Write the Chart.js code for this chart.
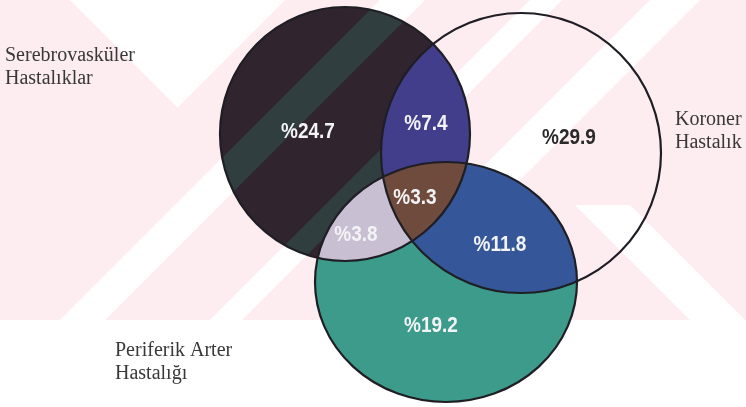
<!DOCTYPE html>
<html>
<head>
<meta charset="utf-8">
<script src="https://cdn.jsdelivr.net/npm/chart.js@4.4.0/dist/chart.umd.min.js"></script>
<style>
  html, body { margin: 0; padding: 0; background: #ffffff; }
  canvas { display: block; }
</style>
</head>
<body>
<canvas id="venn" width="746" height="407"></canvas>
<script>
// Share of patients (%) in each region of the three-set diagram
// A = Serebrovasküler, B = Koroner, C = Periferik Arter
const regionKeys   = ['A', 'AB', 'B', 'AC', 'ABC', 'BC', 'C'];
const regionValues = [24.7, 7.4, 29.9, 3.8, 3.3, 11.8, 19.2];

// Set names, one entry per set, two lines each
const setKeys  = ['A', 'B', 'C'];
const setNames = [['Serebrovasküler', 'Hastalıklar'], ['Koroner', 'Hastalık'], ['Periferik Arter', 'Hastalığı']];

// ---- layout (axis units: x 0..746, y 0..407 downward) ----
const setShapes = {
  A: { cx: 345, cy: 134, rx: 125, ry: 127 },
  B: { cx: 521, cy: 153, rx: 140, ry: 140 },
  C: { cx: 446, cy: 282, rx: 131, ry: 120 }
};
const regionLabelPos = [[308, 132], [426, 124], [569, 138], [356, 235], [415, 198], [500, 245], [431, 326]];
const setNamePos = [[5, 61], [675, 125], [115, 356]];

// ---- styles ----
const regionColors = {
  A: '#30242f', AB: '#423e8c', AC: '#c8bfd3', ABC: '#6f4b3d', BC: '#35579a', C: '#3d9b8b'
};
const labelColors = { B: '#2a2a2a' };
const outlineColor = '#1e1e24';
const watermarkPink = '#fdedf1';
const bandTint = 'rgb(44,62,64)';
// rising light bands of the watermark, as x + y ranges
const risingBands = [[380, 425], [530, 562], [650, 700]];

function ellipsePath(ctx, chart, key) {
  const s = setShapes[key];
  const xs = chart.scales.x, ys = chart.scales.y;
  const px = xs.getPixelForValue(s.cx), py = ys.getPixelForValue(s.cy);
  const prx = Math.abs(xs.getPixelForValue(s.cx + s.rx) - px);
  const pry = Math.abs(ys.getPixelForValue(s.cy + s.ry) - py);
  ctx.beginPath();
  ctx.ellipse(px, py, prx, pry, 0, 0, Math.PI * 2);
  ctx.closePath();
}

function clipTo(ctx, chart, key) { ellipsePath(ctx, chart, key); ctx.clip(); }

function fillSet(ctx, chart, key, color) { ellipsePath(ctx, chart, key); ctx.fillStyle = color; ctx.fill(); }

function poly(ctx, pts) {
  ctx.beginPath();
  ctx.moveTo(pts[0][0], pts[0][1]);
  pts.slice(1).forEach(p => ctx.lineTo(p[0], p[1]));
  ctx.closePath();
  ctx.fill();
}

function risingBand(ctx, a, b, h) { poly(ctx, [[a, 0], [b, 0], [b - h, h], [a - h, h]]); }

// faint diagonal watermark bands behind the diagram
function drawWatermark(ctx, w) {
  const h = 320;
  ctx.fillStyle = watermarkPink;
  ctx.fillRect(0, 0, w, h);
  ctx.fillStyle = '#ffffff';
  risingBands.forEach(([a, b]) => risingBand(ctx, a, b, h));
  // top-left notch
  poly(ctx, [[70, 0], [285, 0], [177.5, 107.5]]);
  // falling band at the right
  poly(ctx, [[575, 205], [630, 205], [745, 320], [690, 320]]);
}

const vennPlugin = {
  id: 'venn',
  beforeDatasetsDraw(chart) {
    const ctx = chart.ctx;
    ctx.save();
    ctx.fillStyle = '#ffffff';
    ctx.fillRect(0, 0, chart.width, chart.height);
    drawWatermark(ctx, chart.width);

    // single-set fills (B alone stays transparent)
    fillSet(ctx, chart, 'A', regionColors.A);
    fillSet(ctx, chart, 'C', regionColors.C);
    // pairwise overlaps
    ctx.save(); clipTo(ctx, chart, 'A'); fillSet(ctx, chart, 'B', regionColors.AB); ctx.restore();
    ctx.save(); clipTo(ctx, chart, 'A'); fillSet(ctx, chart, 'C', regionColors.AC); ctx.restore();
    ctx.save(); clipTo(ctx, chart, 'B'); fillSet(ctx, chart, 'C', regionColors.BC); ctx.restore();
    // triple overlap
    ctx.save(); clipTo(ctx, chart, 'A'); clipTo(ctx, chart, 'B'); fillSet(ctx, chart, 'C', regionColors.ABC); ctx.restore();

    // watermark bands showing through the dark set
    ctx.save();
    clipTo(ctx, chart, 'A');
    ctx.globalCompositeOperation = 'lighten';
    ctx.fillStyle = bandTint;
    risingBands.forEach(([a, b]) => risingBand(ctx, a, b, 320));
    ctx.restore();

    // outlines
    ctx.lineWidth = 2.2;
    ctx.strokeStyle = outlineColor;
    setKeys.forEach(k => { ellipsePath(ctx, chart, k); ctx.stroke(); });
    ctx.restore();
  },
  afterDatasetsDraw(chart) {
    const ctx = chart.ctx;
    ctx.save();
    // region percentages at the dataset points
    const pts = chart.getDatasetMeta(0).data;
    ctx.font = 'bold 19px "Liberation Sans", Arial, sans-serif';
    ctx.textAlign = 'center';
    ctx.textBaseline = 'middle';
    pts.forEach((p, i) => {
      ctx.save();
      ctx.translate(p.x, p.y);
      ctx.scale(1, 1.12);
      ctx.fillStyle = labelColors[regionKeys[i]] || '#f3f3f6';
      ctx.fillText('%' + regionValues[i].toFixed(1), 0, 0);
      ctx.restore();
    });
    // set names
    const names = chart.getDatasetMeta(1).data;
    ctx.font = '20px "Liberation Serif", "Times New Roman", serif';
    ctx.textAlign = 'left';
    ctx.textBaseline = 'alphabetic';
    ctx.fillStyle = '#383838';
    names.forEach((p, i) => {
      setNames[i].forEach((line, j) => ctx.fillText(line, p.x, p.y + j * 22.5));
    });
    ctx.restore();
  }
};

new Chart(document.getElementById('venn'), {
  type: 'scatter',
  data: {
    datasets: [
      { label: 'Bölgeler', data: regionLabelPos.map(([x, y]) => ({ x, y })), pointRadius: 0 },
      { label: 'Hastalık grupları', data: setNamePos.map(([x, y]) => ({ x, y })), pointRadius: 0 }
    ]
  },
  options: {
    responsive: false,
    animation: false,
    layout: { padding: 0 },
    plugins: { legend: { display: false }, tooltip: { enabled: false } },
    scales: {
      x: { type: 'linear', min: 0, max: 746, display: false },
      y: { type: 'linear', min: 0, max: 407, reverse: true, display: false }
    }
  },
  plugins: [vennPlugin]
});
</script>
</body>
</html>
